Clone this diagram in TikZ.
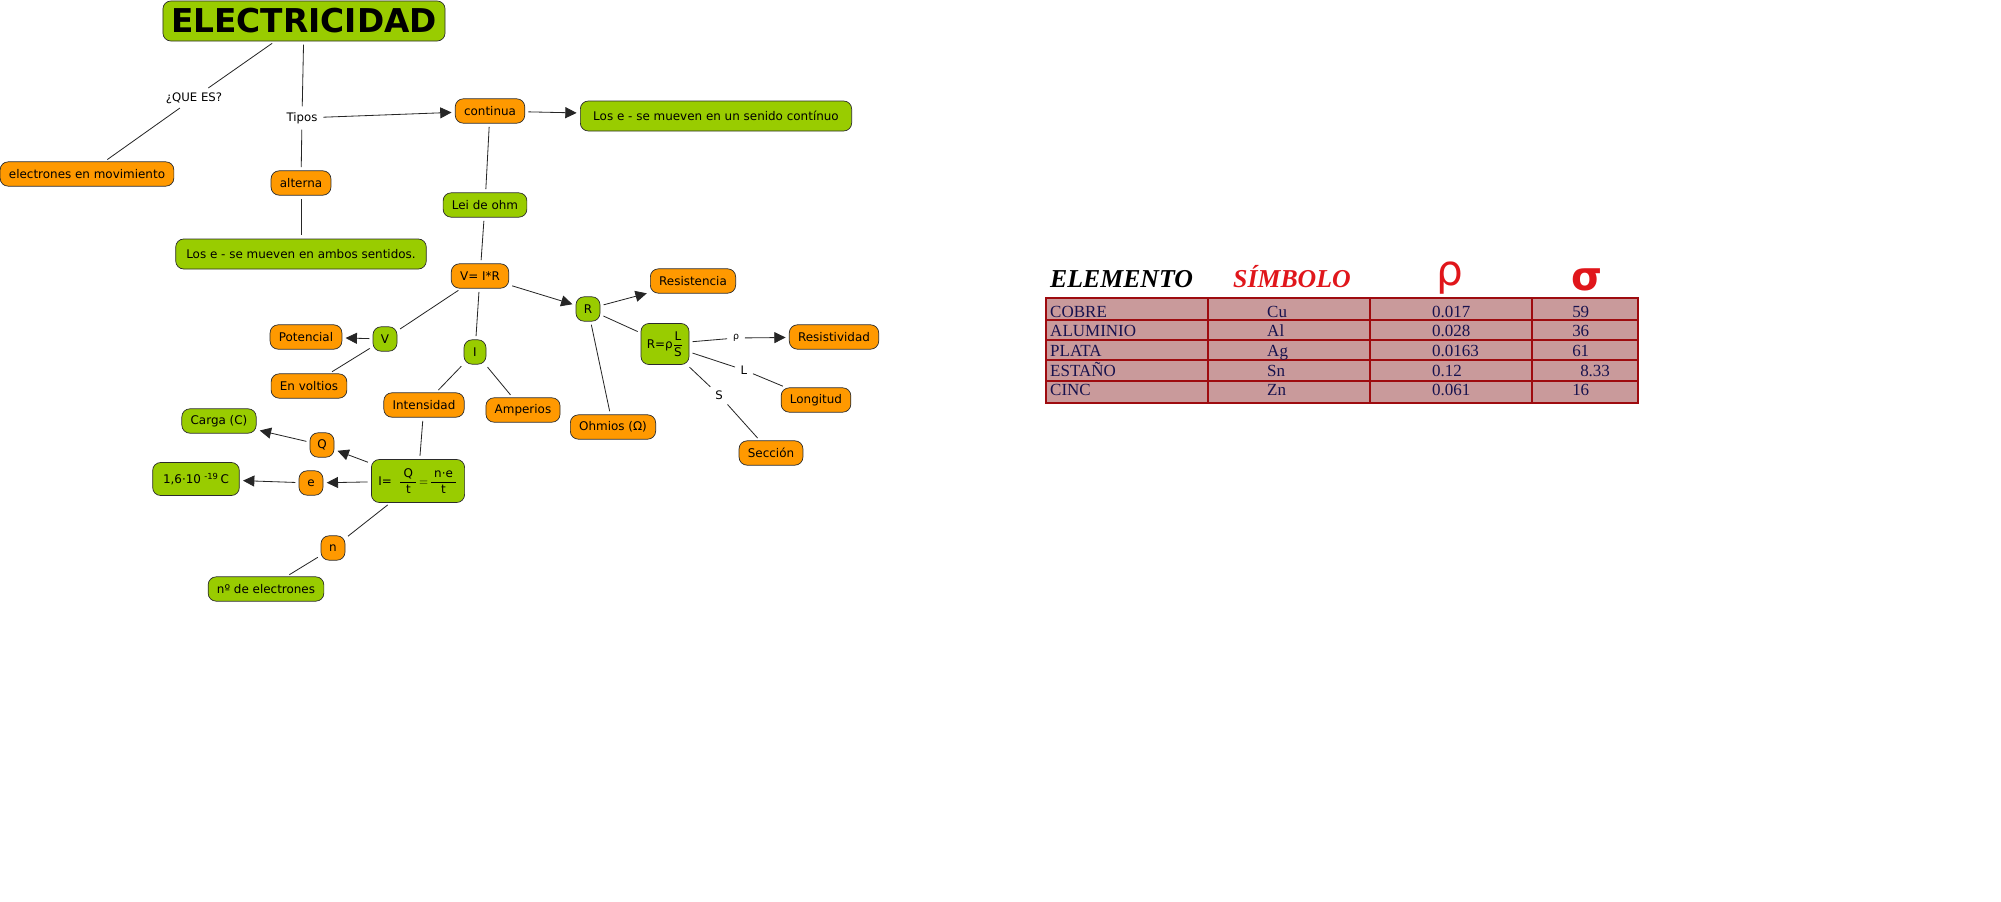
\documentclass[tikz,border=0pt]{standalone}
\usepackage{amsmath}
\usepackage{fontspec}
\setmainfont{DejaVu Sans}
\newfontfamily\tablefont{Liberation Serif}
\usetikzlibrary{arrows.meta}
\definecolor{cmgreen}{HTML}{99CC00}
\definecolor{cmorange}{HTML}{FF9900}
\definecolor{cmborder}{HTML}{2B2B2B}
\definecolor{tabfill}{HTML}{C99A9B}
\definecolor{tabline}{HTML}{9E0B0F}
\definecolor{tabtext}{HTML}{17124E}
\definecolor{hdred}{HTML}{E0161B}

\begin{document}
\begin{tikzpicture}[x=0.3mm,y=-0.3mm,
    box/.style={draw=cmborder,line width=0.6pt,rounded corners=2.4mm,font=\fontsize{10.2}{12}\selectfont,inner xsep=7.5pt,minimum height=7.3mm},
    gbox/.style={box,fill=cmgreen},
    obox/.style={box,fill=cmorange},
    small/.style={inner xsep=2pt,minimum width=7.2mm},
    lbl/.style={font=\fontsize{10}{12}\selectfont,inner sep=2pt},
    link/.style={draw=black!85,line width=0.7pt,shorten <=1mm,shorten >=1mm},
    arr/.style={link,-{Triangle[length=3.4mm,width=3.3mm]}},
    tabtxt/.style={font=\tablefont\fontsize{14.5}{16}\selectfont,text=tabtext,inner sep=0pt,anchor=base west}]
  \useasboundingbox (0,0) rectangle (2001,902);
  % concept map
  \node[gbox,font=\fontsize{28}{30}\selectfont\bfseries,inner xsep=7pt,minimum height=12mm] (title) at (304,21) {ELECTRICIDAD};
  \node[obox] (elec) at (87,174) {electrones en movimiento};
  \node[lbl] (quees) at (194,98) {¿QUE ES?};
  \node[lbl] (tipos) at (302,118) {Tipos};
  \node[obox] (alterna) at (301,183) {alterna};
  \node[gbox,minimum height=9mm,inner xsep=9pt] (ambos) at (301,254) {Los e - se mueven en ambos sentidos.};
  \node[obox] (continua) at (490,111) {continua};
  \node[gbox,minimum height=9mm,inner xsep=11pt,text depth=-2pt] (contin) at (716,116) {Los e - se mueven en un senido contínuo};
  \node[gbox] (ohm) at (485,205) {Lei de ohm};
  \node[obox] (vir) at (480,276) {V= I*R};
  \node[gbox,small] (r) at (588,309) {R};
  \node[obox] (resist) at (693,281) {Resistencia};
  \node[gbox,inner xsep=5pt,minimum height=12.3mm] (formr) at (665,344) {R=ρ$\dfrac{\text{L}}{\text{S}}$};
  \node[obox] (resistiv) at (834,337) {Resistividad};
  \node[obox] (longit) at (816,400) {Longitud};
  \node[obox] (seccion) at (771,453) {Sección};
  \node[obox] (ohmios) at (613,427) {Ohmios (Ω)};
  \node[gbox,small] (v) at (385,339) {V};
  \node[obox] (potencial) at (306,337) {Potencial};
  \node[obox] (voltios) at (309,386) {En voltios};
  \node[gbox,small,minimum width=6.6mm] (i) at (475,352) {I};
  \node[obox] (intens) at (424,405) {Intensidad};
  \node[obox] (amper) at (523,410) {Amperios};
  \node[gbox] (carga) at (219,421) {Carga (C)};
  \node[obox,small] (q) at (322,445) {Q};
  \node[gbox,inner xsep=6pt,minimum height=12.9mm] (formi) at (418,481) {I=\; $\dfrac{\;\text{Q}\;}{\text{t}}\!=\!\dfrac{\;\text{n·e}\;}{\text{t}}$};
  \node[obox,small] (e) at (311,483) {e};
  \node[gbox,minimum height=9.9mm,minimum width=26mm] (coul) at (196,479) {1,6·10\;\textsuperscript{-19}\,C};
  \node[obox,small] (n) at (333,548) {n};
  \node[gbox] (nelec) at (266,589) {nº de electrones};
  \node[lbl,font=\fontsize{8}{10}\selectfont] (rholbl) at (736,338) {ρ};
  \node[lbl] (llbl) at (744,370) {L};
  \node[lbl] (slbl) at (719,395) {S};

  \draw[link] (title) -- (quees);
  \draw[link] (quees) -- (elec);
  \draw[link] (title) -- (tipos);
  \draw[link] (tipos) -- (alterna);
  \draw[arr] (tipos) -- (continua);
  \draw[link] (alterna) -- (ambos);
  \draw[arr] (continua) -- (contin);
  \draw[link] (continua) -- (ohm);
  \draw[link] (ohm) -- (vir);
  \draw[link] (vir) -- (v);
  \draw[link] (vir) -- (i);
  \draw[arr] (vir) -- (r);
  \draw[arr] (v) -- (potencial);
  \draw[link] (v) -- (voltios);
  \draw[link] (i) -- (intens);
  \draw[link] (i) -- (amper);
  \draw[link] (intens) -- (formi);
  \draw[arr] (formi) -- (q);
  \draw[arr] (formi) -- (e);
  \draw[link] (formi) -- (n);
  \draw[link] (n) -- (nelec);
  \draw[arr] (q) -- (carga);
  \draw[arr] (e) -- (coul);
  \draw[arr] (r) -- (resist);
  \draw[link] (r) -- (formr);
  \draw[link] (r) -- (ohmios);
  \draw[link] (formr) -- (rholbl);
  \draw[arr] (rholbl) -- (resistiv);
  \draw[link] (formr) -- (llbl);
  \draw[link] (llbl) -- (longit);
  \draw[link] (formr) -- (slbl);
  \draw[link] (slbl) -- (seccion);

  % table
  \node[anchor=base west,inner sep=0pt,font=\tablefont\fontsize{22}{24}\selectfont\bfseries\itshape] (hdel) at (1050,287) {ELEMENTO};
  \node[anchor=base west,inner sep=0pt,font=\tablefont\fontsize{22}{24}\selectfont\bfseries\itshape,text=hdred] (hdsy) at (1233,287) {SÍMBOLO};
  \node[anchor=base,inner sep=0pt,font=\fontsize{36}{38}\selectfont,text=hdred] (hdrho) at (1450,285) {ρ};
  \node[anchor=base,inner sep=0pt,font=\fontsize{34}{36}\selectfont\bfseries,text=hdred] (hdsig) at (1587,290) {σ};
  \fill[tabfill] (1046,298) rectangle (1638,403);
  \foreach \yl in {320,340,360,381}
    \draw[tabline,line width=1pt] (1046,\yl) -- (1638,\yl);
  \foreach \xl in {1208,1370,1532}
    \draw[tabline,line width=1.2pt] (\xl,298) -- (\xl,403);
  \draw[tabline,line width=1.2pt] (1046,298) rectangle (1638,403);
  \foreach \el/\sy/\res/\con/\cx/\yb [count=\k] in {COBRE/Cu/0.017/59/1572/317,ALUMINIO/Al/0.028/36/1572/336,PLATA/Ag/0.0163/61/1572/356,ESTAÑO/Sn/0.12/8.33/1580/376,CINC/Zn/0.061/16/1572/395}{
    \node[tabtxt] (el\k) at (1050,\yb) {\el};
    \node[tabtxt] (sy\k) at (1267,\yb) {\sy};
    \node[tabtxt] (res\k) at (1432,\yb) {\res};
    \node[tabtxt] (con\k) at (\cx,\yb) {\con};
  }
\end{tikzpicture}
\end{document}
